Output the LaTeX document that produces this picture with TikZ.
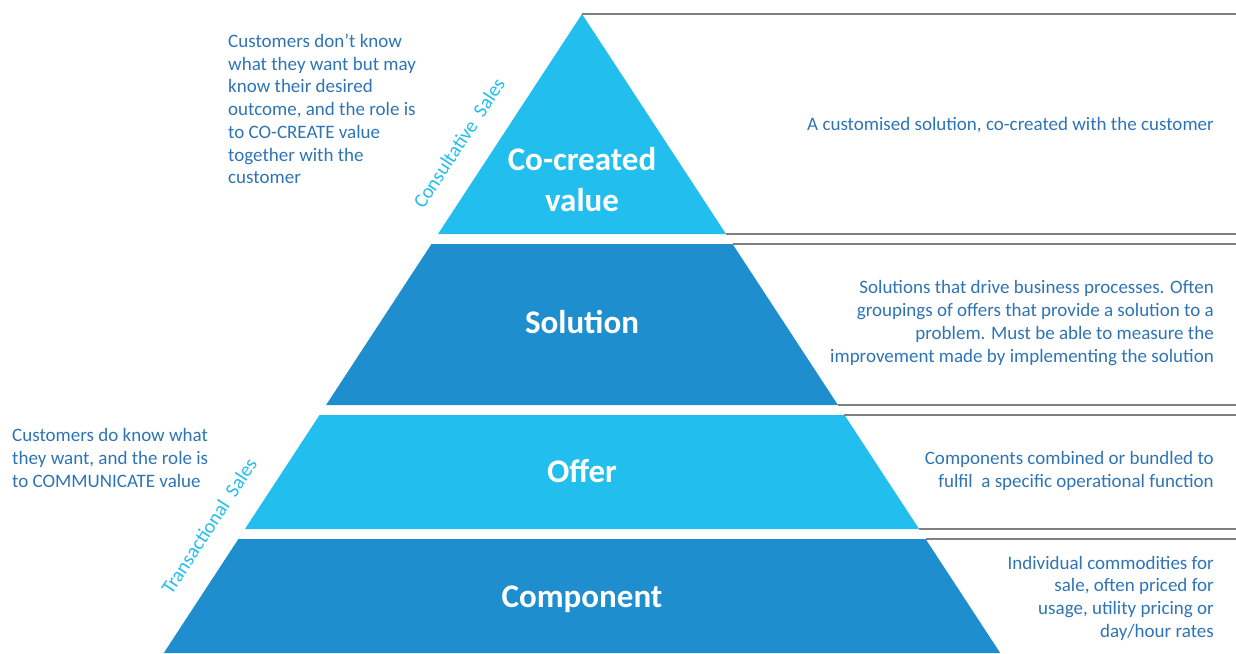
\documentclass[tikz,border=0pt]{standalone}
\usepackage{fontspec}
\setmainfont{Carlito}
\usetikzlibrary{positioning}
\definecolor{skyb}{HTML}{22BFEE}
\definecolor{deepb}{HTML}{1E8ECF}
\definecolor{inkb}{HTML}{2E74B5}
\definecolor{rulegr}{HTML}{808080}
\tikzset{
  ttl/.style={font=\fontsize{33}{41}\selectfont\bfseries,text=white,align=center,inner sep=0pt},
  note/.style={font=\fontsize{19}{22.7}\selectfont,text=inkb,inner sep=0pt},
  tag/.style={font=\fontsize{20}{24}\selectfont,text=skyb,inner sep=0pt,rotate=56.8},
  rul/.style={draw=rulegr,line width=1.6pt},
}

\begin{document}
\begin{tikzpicture}[x=1pt,y=-1pt]
\useasboundingbox (0,0) rectangle (1236,653);
% ---------------- the four layers, apex at (582,14)
\foreach \ya/\yb/\col [count=\i] in {14/234/skyb,244/405/deepb,415/529/skyb,539/653/deepb}{
  \pgfmathsetmacro\wa{0.6545*(\ya-14)}
  \pgfmathsetmacro\wb{0.6545*(\yb-14)}
  \fill[\col] (582-\wa,\ya) -- (582+\wa,\ya) -- (582+\wb,\yb) -- (582-\wb,\yb) -- cycle;
  \draw[rul] (582+\wa,\ya) -- (1236,\ya);
  \ifnum\i<4 \draw[rul] (582+\wb,\yb) -- (1236,\yb); \fi
}
% ---------------- layer names
\node[ttl] (l1) at (582,180) {Co-created\\value};
\node[ttl] (l2) at (582,322) {Solution};
\node[ttl] (l3) at (582,471) {Offer};
\node[ttl] (l4) at (582,599) {Component};
% ---------------- what each layer is
\node[note,anchor=east] (d1) at (1214,125) {A customised solution, co-created with the customer};
\node[note,align=right,anchor=east] (d2) at (1214,323)
  {Solutions that drive business processes. Often\\ groupings of offers that provide a solution to a\\
   problem. Must be able to measure the\\ improvement made by implementing the solution};
\node[note,align=right,anchor=east] (d3) at (1214,471)
  {Components combined or bundled to\\ fulfil\ \ a specific operational function};
\node[note,align=right,anchor=east] (d4) at (1214,598)
  {Individual commodities for\\ sale, often priced for\\ usage, utility pricing or\\ day/hour rates};
% ---------------- the two kinds of selling
\node[note,align=left,anchor=west] (nA) at (228,109)
  {Customers don’t know\\ what they want but may\\ know their desired\\ outcome, and the role is\\
   to CO-CREATE value\\ together with the\\ customer};
\node[note,align=left,anchor=west] (nB) at (12,458)
  {Customers do know what\\ they want, and the role is\\ to COMMUNICATE value};
\node[tag] (tA) at (459,143) {Consultative\ \ Sales};
\node[tag] (tB) at (209,526) {Transactional\ \ Sales};
\end{tikzpicture}
\end{document}
